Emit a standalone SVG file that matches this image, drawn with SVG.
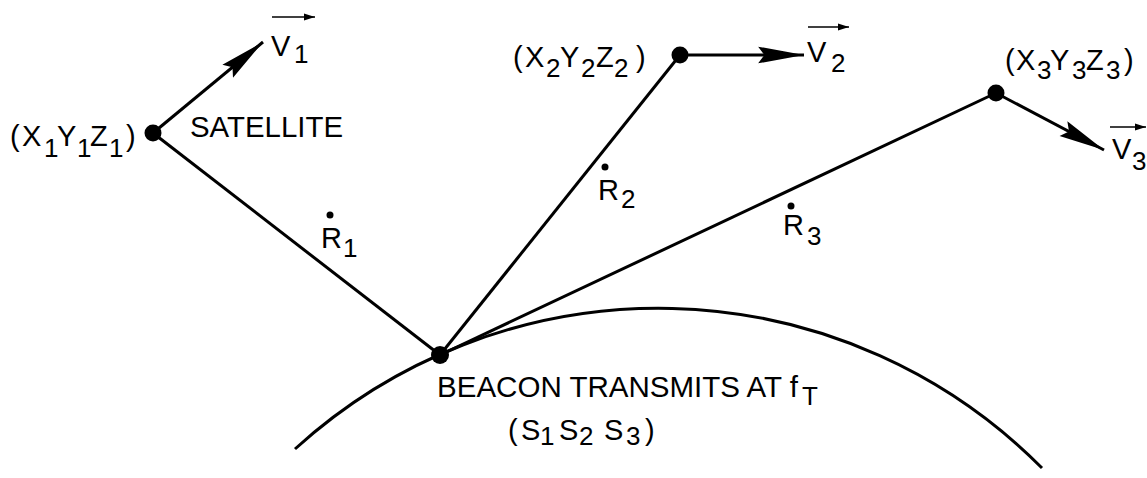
<svg xmlns="http://www.w3.org/2000/svg" width="1147" height="478" viewBox="0 0 1147 478">
<style>
.t{font-family:"Liberation Sans",Arial,sans-serif;font-size:29px;fill:#000}
.s{font-size:26px}
.ln{stroke:#000;stroke-width:3;fill:none}
.th{stroke:#000;stroke-width:1.6;fill:none}
.dot{fill:#000}
</style>
<defs>
<marker id="ah" markerUnits="userSpaceOnUse" markerWidth="50" markerHeight="20" viewBox="-46 -9 48 18" refX="0" refY="0" orient="auto">
<path d="M0,0 L-44,-8 L-38,0 L-44,8 Z" fill="#000"/>
</marker>
<marker id="sh" markerUnits="userSpaceOnUse" markerWidth="14" markerHeight="8" viewBox="-12 -4 13 8" refX="0" refY="0" orient="auto">
<path d="M0,0 L-11,-3.5 L-11,3.5 Z" fill="#000"/>
</marker>
</defs>
<g id="connectors">
<path id="earth" class="ln" d="M295 449 A540 540 0 0 1 1042 468"/>
<line class="ln" x1="440" y1="355" x2="153" y2="133"/>
<line class="ln" x1="440" y1="355" x2="680" y2="55"/>
<line class="ln" x1="440" y1="355" x2="996" y2="93"/>
<line class="ln" x1="153" y1="133" x2="263" y2="42" marker-end="url(#ah)"/>
<line class="ln" x1="680" y1="55" x2="804" y2="55" marker-end="url(#ah)"/>
<line class="ln" x1="996" y1="93" x2="1104" y2="150" marker-end="url(#ah)"/>
</g>
<g id="satellite1">
<circle class="dot" cx="153" cy="133" r="8.5"/>
<text class="t"><tspan x="10" y="146">(</tspan><tspan x="22" y="146">X</tspan><tspan class="s" x="44" y="157">1</tspan><tspan x="57" y="146">Y</tspan><tspan class="s" x="77" y="157">1</tspan><tspan x="90" y="146">Z</tspan><tspan class="s" x="109" y="157">1</tspan><tspan x="126" y="146">)</tspan></text>
<text class="t" x="190" y="137" textLength="153" lengthAdjust="spacingAndGlyphs">SATELLITE</text>
</g>
<g id="v1">
<line class="th" x1="272" y1="17" x2="315" y2="17" marker-end="url(#sh)"/>
<text class="t"><tspan x="271" y="56">V</tspan><tspan class="s" x="294" y="63">1</tspan></text>
</g>
<g id="satellite2">
<circle class="dot" cx="680" cy="55" r="8.5"/>
<text class="t"><tspan x="513" y="67">(</tspan><tspan x="525" y="67">X</tspan><tspan class="s" x="546" y="77">2</tspan><tspan x="560" y="67">Y</tspan><tspan class="s" x="581" y="77">2</tspan><tspan x="596" y="67">Z</tspan><tspan class="s" x="614" y="77">2</tspan><tspan x="636" y="67">)</tspan></text>
</g>
<g id="v2">
<line class="th" x1="808" y1="27" x2="849" y2="27" marker-end="url(#sh)"/>
<text class="t"><tspan x="807" y="62">V</tspan><tspan class="s" x="831" y="72">2</tspan></text>
</g>
<g id="satellite3">
<circle class="dot" cx="996" cy="93" r="8.5"/>
<text class="t"><tspan x="1005" y="70">(</tspan><tspan x="1016" y="70">X</tspan><tspan class="s" x="1037" y="79">3</tspan><tspan x="1050" y="70">Y</tspan><tspan class="s" x="1072" y="79">3</tspan><tspan x="1086" y="70">Z</tspan><tspan class="s" x="1106" y="79">3</tspan><tspan x="1124" y="70">)</tspan></text>
</g>
<g id="v3">
<line class="th" x1="1110" y1="127" x2="1146" y2="127" marker-end="url(#sh)"/>
<text class="t"><tspan x="1112" y="159">V</tspan><tspan class="s" x="1132" y="170">3</tspan></text>
</g>
<g id="r1">
<circle class="dot" cx="330" cy="215" r="3.5"/>
<text class="t"><tspan x="321" y="248">R</tspan><tspan class="s" x="343" y="257">1</tspan></text>
</g>
<g id="r2">
<circle class="dot" cx="605" cy="167" r="3.5"/>
<text class="t"><tspan x="598" y="200">R</tspan><tspan class="s" x="621" y="208">2</tspan></text>
</g>
<g id="r3">
<circle class="dot" cx="791" cy="206" r="3.5"/>
<text class="t"><tspan x="783" y="235">R</tspan><tspan class="s" x="807" y="245">3</tspan></text>
</g>
<g id="beacon">
<circle class="dot" cx="440" cy="355" r="9"/>
<text class="t"><tspan x="437" y="397" textLength="361" lengthAdjust="spacingAndGlyphs">BEACON TRANSMITS AT f</tspan><tspan class="s" x="802" y="405">T</tspan></text>
<text class="t"><tspan x="508" y="440">(</tspan><tspan x="521" y="440">S</tspan><tspan class="s" x="540" y="445">1</tspan><tspan x="559" y="440">S</tspan><tspan class="s" x="579" y="445">2</tspan><tspan x="604" y="440">S</tspan><tspan class="s" x="626" y="445">3</tspan><tspan x="645" y="440">)</tspan></text>
</g>
</svg>
